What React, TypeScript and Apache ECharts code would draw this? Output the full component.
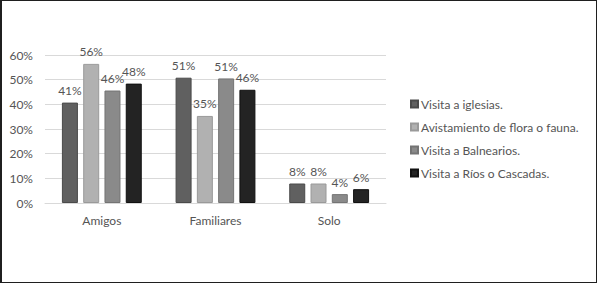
import React, { useEffect, useRef } from "react";
import * as echarts from "echarts";

const categories = ["Amigos", "Familiares", "Solo"];
const seriesNames = [
  "Visita a iglesias.",
  "Avistamiento de flora o fauna.",
  "Visita a Balnearios.",
  "Visita a Ríos o Cascadas.",
];
const iglesias = [40.7, 50.8, 7.9];
const flora = [56.4, 35.3, 7.9];
const balnearios = [45.6, 50.5, 3.6];
const rios = [48.4, 45.9, 5.6];
const yTicks = [0, 10, 20, 30, 40, 50, 60];

const colors = ["#606060", "#b1b1b1", "#8a8a8a", "#232323"];
const borders = ["#4a4a4a", "#9a9a9a", "#747474", "#111111"];
const FONT = "Lato";

export default function App() {
  const ref = useRef<HTMLDivElement>(null);
  useEffect(() => {
    if (!ref.current) return;
    const chart = echarts.init(ref.current, null, { renderer: "svg" });
    const data = [iglesias, flora, balnearios, rios];
    chart.setOption({
      animation: false,
      backgroundColor: "#ffffff",
      textStyle: { fontFamily: FONT },
      grid: { left: 43, right: 210, top: 54, bottom: 79 },
      legend: {
        orient: "vertical",
        left: 403,
        top: 92,
        itemWidth: 7,
        itemHeight: 7,
        itemGap: 11,
        icon: "rect",
        textStyle: { fontSize: 12, color: "#555555", fontFamily: FONT, padding: [0, 0, 0, -2] },
        data: seriesNames,
      },
      xAxis: {
        type: "category",
        data: categories,
        axisTick: { show: false },
        axisLine: { lineStyle: { color: "#d9d9d9", width: 1 } },
        axisLabel: { color: "#555555", fontSize: 12, margin: 11, fontFamily: FONT },
      },
      yAxis: {
        type: "value",
        min: yTicks[0],
        max: yTicks[yTicks.length - 1],
        interval: 10,
        axisLine: { show: false },
        axisTick: { show: false },
        splitLine: { lineStyle: { color: "#d9d9d9", width: 1 } },
        axisLabel: {
          color: "#555555",
          fontSize: 12,
          margin: 12,
          fontFamily: FONT,
          formatter: (v: number) => v + "%",
        },
      },
      series: seriesNames.map((name, i) => ({
        name,
        type: "bar",
        data: data[i],
        barWidth: 16,
        barGap: "33%",
        itemStyle: { color: colors[i], borderColor: borders[i], borderWidth: 1 },
        label: {
          show: true,
          position: "top",
          distance: 6,
          color: "#555555",
          fontSize: 12,
          fontFamily: FONT,
          formatter: (p: any) => Math.round(p.value) + "%",
        },
      })),
    });
    return () => chart.dispose();
  }, []);
  return (
    <div
      style={{
        position: "fixed",
        left: 0,
        top: 0,
        width: 597,
        height: 283,
        boxSizing: "border-box",
        border: "1px solid #1f1f1f",
        borderLeftWidth: 2,
        background: "#fff",
      }}
    >
      <div ref={ref} style={{ width: 594, height: 281 }} />
    </div>
  );
}
